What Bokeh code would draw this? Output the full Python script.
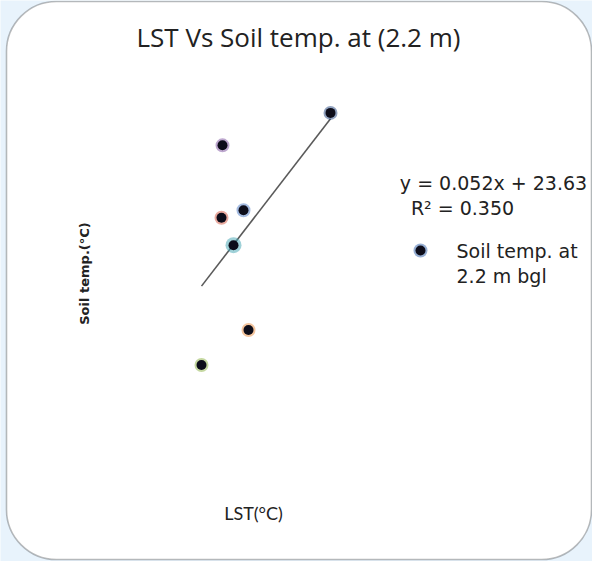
import math
from bokeh.plotting import figure
from bokeh.models import Range1d, Label, BoxAnnotation, ColumnDataSource
from bokeh.embed import file_html
from bokeh.resources import INLINE

# ---- data ----
lst = [40.9, 30.1, 32.2, 30.0, 31.2, 32.7, 28.0]          # LST (°C)
soil = [25.78, 25.65, 25.39, 25.36, 25.25, 24.91, 24.77]   # Soil temp (°C) at 2.2 m
halo = ["#24467f", "#7b4f9e", "#4a78c4", "#d4553f", "#3fa3b2", "#e98c3e", "#8cb243"]
sizes = [14, 14, 14, 14, 16, 14, 14]
slope, intercept, r2 = 0.052, 23.63, 0.350

title_text = "LST Vs Soil temp. at (2.2 m)"
x_label = "LST(\u00b0C)"
y_label = "Soil temp.(\u00b0C)"
eq_text = "y = 0.052x + 23.63"
r2_text = "R\u00b2 = 0.350"
legend_lines = ["Soil temp. at", "2.2 m bgl"]

W, H = 592, 561
BG = "#e8f3fc"
TXT = "#222222"

# pixel <-> data helpers (canvas pixel coordinates, y down)
def px2x(px):
    return 28.0 + (px + 8 - 209) / 10.0

def px2y(py):
    return 25.302 + (239.7 - (py + 8)) / 249.6

p = figure(width=W, height=H, output_backend="svg", toolbar_location=None,
           x_range=Range1d(px2x(0), px2x(W)), y_range=Range1d(px2y(H), px2y(0)),
           x_axis_location=None, y_axis_location=None, min_border=0,
           background_fill_color=BG, border_fill_color=BG, outline_line_color=None)
p.grid.visible = False

# rounded white panel
box = BoxAnnotation(left=px2x(6), right=px2x(591), top=px2y(1), bottom=px2y(559),
                    fill_color="white", fill_alpha=1.0, line_color="#222222",
                    line_width=1.6, border_radius=50, level="underlay")
p.add_layout(box)

# trend line
x0, x1 = min(lst), max(lst)
p.segment(x0=[x0], y0=[slope * x0 + intercept], x1=[x1], y1=[slope * x1 + intercept],
          line_color="#5a5a5a", line_width=1.6)

src = ColumnDataSource(dict(x=lst, y=soil, halo=halo, s=sizes))
p.scatter("x", "y", source=src, size="s", fill_color="halo", fill_alpha=0.5,
          line_color=None)
p.scatter("x", "y", source=src, size=10, fill_color="#0d0d1a", line_color=None)

# title and axis labels
p.add_layout(Label(x=px2x(298), y=px2y(36), text=title_text, text_font="Open Sans",
                   text_font_size="26px", text_color=TXT,
                   text_align="center", text_baseline="middle"))
p.add_layout(Label(x=px2x(253), y=px2y(512), text=x_label, text_font="Lato",
                   text_font_size="18px", text_color=TXT,
                   text_align="center", text_baseline="middle"))
p.add_layout(Label(x=px2x(84), y=px2y(273), text=y_label, text_font="DejaVu Sans",
                   text_font_size="13px", text_font_style="bold", text_color=TXT,
                   text_align="center", text_baseline="middle", angle=math.pi / 2))

# regression text and legend
p.add_layout(Label(x=px2x(493), y=px2y(182), text=eq_text, text_font="DejaVu Sans",
                   text_font_size="19px", text_color=TXT,
                   text_align="center", text_baseline="middle"))
p.add_layout(Label(x=px2x(462), y=px2y(207), text=r2_text, text_font="DejaVu Sans",
                   text_font_size="19px", text_color=TXT,
                   text_align="center", text_baseline="middle"))
p.scatter(x=[px2x(420)], y=[px2y(250)], size=14, fill_color="#2f5fa8", fill_alpha=0.5,
          line_color=None)
p.scatter(x=[px2x(420)], y=[px2y(250)], size=10, fill_color="#0d0d1a", line_color=None)
p.add_layout(Label(x=px2x(456), y=px2y(250), text=legend_lines[0], text_font="DejaVu Sans",
                   text_font_size="19px", text_color=TXT,
                   text_align="left", text_baseline="middle"))
p.add_layout(Label(x=px2x(456), y=px2y(275), text=legend_lines[1], text_font="DejaVu Sans",
                   text_font_size="19px", text_color=TXT,
                   text_align="left", text_baseline="middle"))

open("out.html", "w").write(file_html(p, INLINE))
